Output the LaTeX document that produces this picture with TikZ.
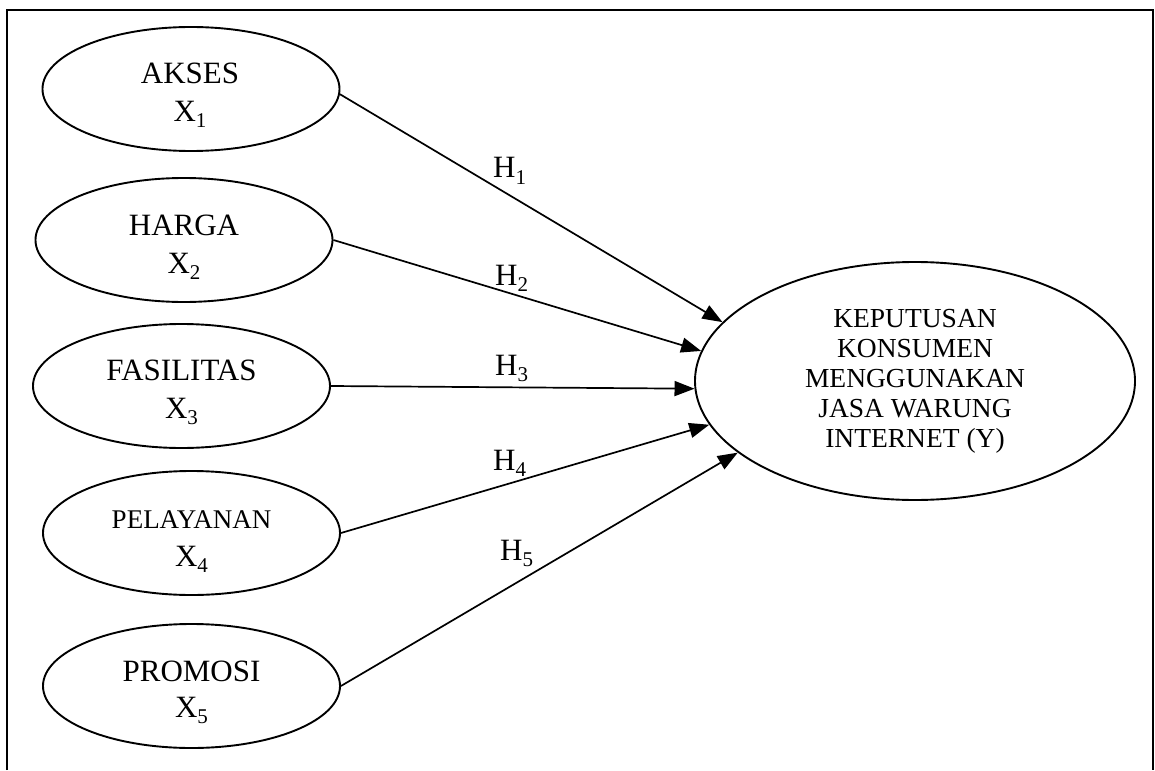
\documentclass[tikz,border=0pt]{standalone}
\usepackage{fontspec}
\setmainfont{Liberation Serif}
\usetikzlibrary{shapes.geometric,arrows.meta}
\newcommand\sbx[1]{\raisebox{-6pt}{\fontsize{21}{21}\selectfont #1}}
\begin{document}
\begin{tikzpicture}[x=1pt,y=-1pt,
  ell/.style={draw, ellipse, line width=1.9pt, minimum width=297pt, minimum height=124pt, inner sep=0pt},
  lbl/.style={inner sep=0pt, font=\fontsize{31}{38}\selectfont},
  arr/.style={line width=1.7pt, -{Triangle[length=20pt,width=15pt]}}]
\useasboundingbox (0,0) rectangle (1155,770);
\draw[line width=2.4pt] (7,770) -- (7,10) -- (1153,10) -- (1153,770);

\node[ell] (x1) at (191,89) {};
\node[ell] (x2) at (184,240) {};
\node[ell] (x3) at (181.5,386) {};
\node[ell] (x4) at (191.5,533) {};
\node[ell] (x5) at (191.5,686) {};
\node[draw, ellipse, line width=1.9pt, minimum width=440pt, minimum height=238pt, inner sep=0pt,
      align=center, font=\fontsize{27.5}{30}\selectfont] (y) at (915,381)
      {KEPUTUSAN\\KONSUMEN\\MENGGUNAKAN\\JASA WARUNG\\INTERNET (Y)};

\node[lbl, anchor=base] (t1) at (190,84) {AKSES};
\node[lbl, anchor=base] (s1) at (190,122) {X\sbx{1}};
\node[lbl, anchor=base] (t2) at (184,235) {HARGA};
\node[lbl, anchor=base] (s2) at (184,273) {X\sbx{2}};
\node[lbl, anchor=base] (t3) at (181.5,380) {FASILITAS};
\node[lbl, anchor=base] (s3) at (181.5,418) {X\sbx{3}};
\node[lbl, anchor=base, font=\fontsize{27}{30}\selectfont] (t4) at (191.5,528) {PELAYANAN};
\node[lbl, anchor=base] (s4) at (191.5,566) {X\sbx{4}};
\node[lbl, anchor=base] (t5) at (191.5,681) {PROMOSI};
\node[lbl, anchor=base] (s5) at (191.5,717) {X\sbx{5}};

\node[lbl, anchor=base west] (h1) at (493,178) {H\sbx{1}};
\node[lbl, anchor=base west] (h2) at (495,285) {H\sbx{2}};
\node[lbl, anchor=base west] (h3) at (495,375) {H\sbx{3}};
\node[lbl, anchor=base west] (h4) at (493,470) {H\sbx{4}};
\node[lbl, anchor=base west] (h5) at (500,560) {H\sbx{5}};

\draw[arr] (x1.-2) -- (y.163);
\draw[arr] (x2.east) -- (y.172);
\draw[arr] (x3.east) -- (y.182);
\draw[arr] (x4.east) -- (y.192);
\draw[arr] (x5.east) -- (y.202);
\end{tikzpicture}
\end{document}
